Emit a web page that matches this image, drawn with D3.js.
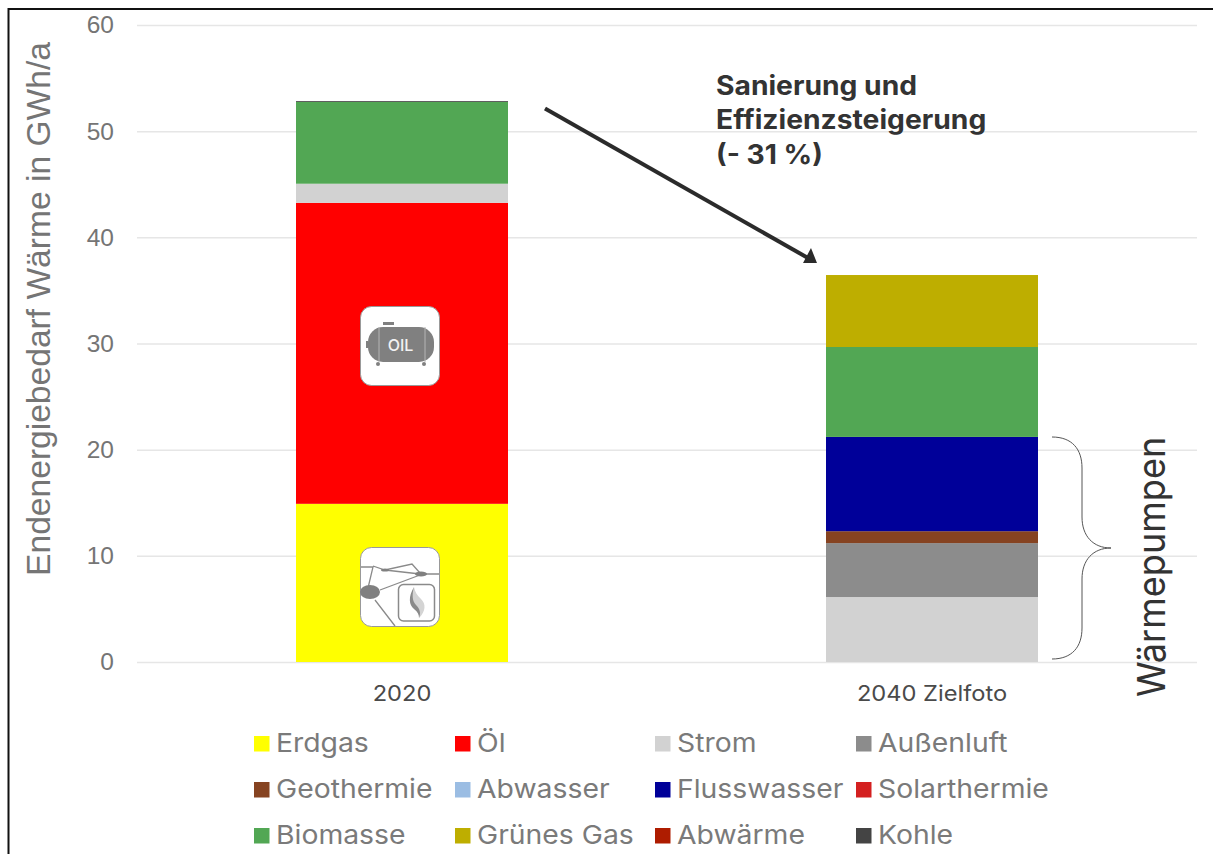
<!DOCTYPE html>
<html><head><meta charset="utf-8">
<script src="https://cdn.jsdelivr.net/npm/d3@7/dist/d3.min.js"></script>
<style>html,body{margin:0;padding:0;background:#fff}svg{display:block;font-family:Inter,"Noto Sans",sans-serif}</style>
</head><body><div id="c"></div>
<script>
const categories = ["2020", "2040 Zielfoto"];
const seriesNames = ["Erdgas","Öl","Strom","Außenluft","Geothermie","Abwasser","Flusswasser","Solarthermie","Biomasse","Grünes Gas","Abwärme","Kohle"];
const seriesColors = ["#ffff00","#ff0000","#d2d2d2","#8c8c8c","#864321","#9bbde3","#000099","#d42020","#52a754","#beae00","#ae1c00","#444444"];
const values2020 = [14.9,28.35,1.8,0,0,0,0,0,7.7,0,0,0.08];
const values2040 = [0,0,6.12,5.08,1.12,0,8.88,0,8.47,6.78,0,0];
const yTicks = [0,10,20,30,40,50,60];
const annotationLines = ["Sanierung und","Effizienzsteigerung","(- 31 %)"];

const W=1213,H=854;
const svg=d3.select("#c").append("svg").attr("width",W).attr("height",H);
const y=d3.scaleLinear().domain([0,60]).range([662,25]);
const x=d3.scaleBand().domain(categories).range([137,1197]).paddingInner(0.6).paddingOuter(0.3);

// frame
svg.append("path").attr("d",`M8.5,${H} V9 H${W}`).attr("fill","none").attr("stroke","#111").attr("stroke-width",2);

// grid + y axis
const yAxis=d3.axisLeft(y).tickValues(yTicks).tickSize(-(1197-137)).tickPadding(23);
const gy=svg.append("g").attr("transform","translate(137,0)").call(yAxis);
gy.select(".domain").remove();
gy.selectAll(".tick line").attr("stroke","#e6e6e6").attr("stroke-width",1.5);
gy.selectAll(".tick text").attr("fill","#757575").attr("font-size",24.5).attr("font-family","Liberation Sans,Arial,sans-serif");

// x axis
const gx=svg.append("g").attr("transform","translate(0,662)").call(d3.axisBottom(x).tickSize(0).tickPadding(23.5));
gx.select(".domain").remove();
gx.selectAll(".tick text").attr("fill","#4a4a4a").attr("font-size",21.5).attr("transform","scale(1.1,1)").attr("font-family","Inter,sans-serif");

// bars
const rows=[values2020,values2040];
rows.forEach((vals,i)=>{
  let acc=0;
  vals.forEach((v,j)=>{
    if(v<=0)return;
    svg.append("rect").attr("x",x(categories[i])).attr("width",x.bandwidth())
      .attr("y",y(acc+v)).attr("height",y(acc)-y(acc+v)).attr("fill",seriesColors[j]);
    acc+=v;
  });
});

// y title
svg.append("text").attr("transform","translate(50,309) rotate(-90)").attr("text-anchor","middle")
  .attr("fill","#757575").attr("font-size",33.6).attr("font-family","Liberation Sans,Arial,sans-serif").text("Endenergiebedarf Wärme in GWh/a");

// legend
const legX=[254,455,655,856], legY=[743,789,835];
seriesNames.forEach((n,i)=>{
  const lx=legX[i%4], ly=legY[Math.floor(i/4)];
  svg.append("rect").attr("x",lx).attr("y",ly-7).attr("width",15.5).attr("height",15.5).attr("fill",seriesColors[i]);
  svg.append("text").attr("transform",`translate(${lx+22},${ly+9}) scale(1.09,1)`).attr("font-size",26).attr("fill","#7a7a7a").attr("font-family","Inter,sans-serif").text(n);
});

// annotation
const ann=svg.append("text").attr("transform","translate(716,0) scale(1.066,1)").attr("font-weight",700).attr("font-size",26.5).attr("fill","#333").attr("font-family","Inter,sans-serif");
annotationLines.forEach((t,i)=>ann.append("tspan").attr("x",0).attr("y",95+i*34.5).text(t));
svg.append("line").attr("x1",545).attr("y1",108.5).attr("x2",808).attr("y2",258).attr("stroke","#2b2b2b").attr("stroke-width",4);
svg.append("path").attr("d","M817,263 L803,263 L811,248 Z").attr("fill","#2b2b2b");

// brace
svg.append("path").attr("d","M1052,437 C1072,437 1082,449 1082,468 L1082,517 C1082,536 1093,548 1111,548 C1093,548 1082,560 1082,579 L1082,628 C1082,647 1072,659 1052,659")
  .attr("fill","none").attr("stroke","#555").attr("stroke-width",1);
svg.append("text").attr("transform","translate(1165,697) rotate(-90) scale(0.95,1)").attr("fill","#333").attr("font-size",38).attr("font-family","Inter,sans-serif").attr("font-weight",400).text("Wärmepumpen");

// oil icon
const oil=svg.append("g").attr("transform","translate(360,306)");
oil.append("rect").attr("x",0.5).attr("y",0.5).attr("width",79).attr("height",79).attr("rx",11).attr("fill","#fff").attr("stroke","#999");
oil.append("rect").attr("x",8).attr("y",21).attr("width",66).attr("height",35).attr("rx",15).attr("fill","#808080");
oil.append("rect").attr("x",23).attr("y",16).attr("width",11).attr("height",3).attr("fill","#808080");
oil.append("rect").attr("x",6).attr("y",35).attr("width",2).attr("height",7).attr("fill","#808080");
oil.selectAll("line.s").data([19,65]).join("line").attr("x1",d=>d).attr("x2",d=>d).attr("y1",21).attr("y2",56).attr("stroke","#b5b5b5");
oil.selectAll("circle").data([18,64]).join("circle").attr("cx",d=>d).attr("cy",58).attr("r",2).attr("fill","#808080");
oil.append("text").attr("x",40.5).attr("y",45).attr("text-anchor","middle").attr("fill","#f2f2f2").attr("font-size",16).attr("font-weight",500).attr("font-family","Inter,sans-serif").text("OIL");

// gas icon
const gas=svg.append("g").attr("transform","translate(360,547)");
gas.append("rect").attr("x",0.5).attr("y",0.5).attr("width",79).attr("height",79).attr("rx",11).attr("fill","#fff").attr("stroke","#999");
gas.append("path").attr("d","M1,20 H13 L8,41 M13,19 L25,23 L52,17 L60,26 M25,23 L60,27 L79,27 M20,43 L60,28 M15,53 L35,79")
  .attr("fill","none").attr("stroke","#8a8a8a").attr("stroke-width",1.3);
gas.append("ellipse").attr("cx",10).attr("cy",45).attr("rx",10).attr("ry",7).attr("fill","#808080");
gas.append("ellipse").attr("cx",61).attr("cy",27).attr("rx",6).attr("ry",2.5).attr("fill","#808080");
gas.append("ellipse").attr("cx",25).attr("cy",23).attr("rx",4).attr("ry",1.5).attr("fill","#808080");
gas.append("rect").attr("x",38.5).attr("y",37.5).attr("width",36).attr("height",36.5).attr("rx",5).attr("fill","#fff").attr("stroke","#8a8a8a").attr("stroke-width",1.5);
gas.append("path").attr("d","M54,40 C49,50 50,57 55,61 C59,64 60,67 59,71 C66,64 66,57 61,52 C57,48 55,45 54,40 Z").attr("fill","#d4d4d4");
gas.append("path").attr("d","M54,40 C48,50 49,58 54,62 C58,65 59,68 59,71 C61,66 60,62 56,58 C52,54 52,47 54,40 Z").attr("fill","#8a8a8a");
</script></body></html>
